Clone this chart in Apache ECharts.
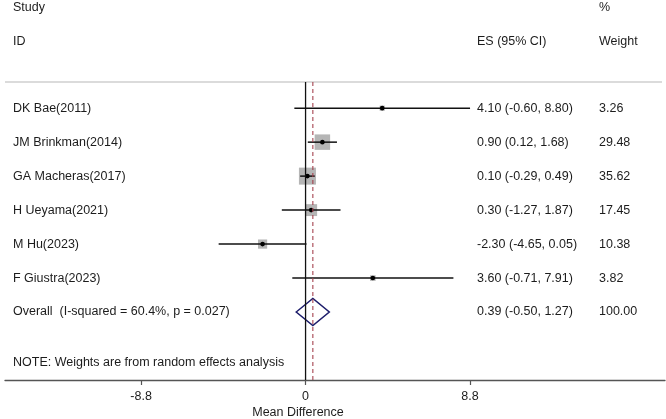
<!DOCTYPE html>
<html>
<head>
<meta charset="utf-8">
<script src="https://cdn.jsdelivr.net/npm/echarts@6/dist/echarts.min.js"></script>
<style>
  html, body { margin: 0; background: #fff; }
  #chart { width: 666px; height: 419px; }
</style>
</head>
<body>
<div id="chart"></div>
<script>
// study rows
const studies = ['DK Bae(2011)', 'JM Brinkman(2014)', 'GA Macheras(2017)', 'H Ueyama(2021)', 'M Hu(2023)', 'F Giustra(2023)']
const es = [4.10, 0.90, 0.10, 0.30, -2.30, 3.60]
const ciLow = [-0.60, 0.12, -0.29, -1.27, -4.65, -0.71]
const ciHigh = [8.80, 1.68, 0.49, 1.87, 0.05, 7.91]
const weights = [3.26, 29.48, 35.62, 17.45, 10.38, 3.82]

// pooled estimate: es, low, high, weight
const overallLabel = 'Overall  (I-squared = 60.4%, p = 0.027)'
const overallVals = [0.39, -0.50, 1.27, 100.00]

const xTicks = [-8.8, 0, 8.8]

const FONT = '12.5px "Liberation Sans", Arial, sans-serif'
const TXT = '#1c1c1c'
const ES_X = 477
const W_X = 599
const Y_TOP = -0.77
const Y_BOT = 8.0

const fmtCI = (e, l, h) => `${e.toFixed(2)} (${l.toFixed(2)}, ${h.toFixed(2)})`

function txt(text, x, y) {
  return { type: 'text', x, y, style: { text, font: FONT, fill: TXT, align: 'left', verticalAlign: 'middle' } }
}

// 每一行：方框 + 置信区间 + 点 + 文本
function renderStudy(params, api) {
  const row = api.value(1)
  const e = api.value(0), lo = api.value(2), hi = api.value(3), w = api.value(4)
  const y = api.coord([0, row])[1]
  const xe = api.coord([e, row])[0]
  const xl = api.coord([lo, row])[0]
  const xh = api.coord([hi, row])[0]
  const side = 2.85 * Math.sqrt(w)
  return {
    type: 'group',
    children: [
      { type: 'rect', shape: { x: xe - side / 2, y: y - side / 2, width: side, height: side }, style: { fill: '#b5b5b5' } },
      { type: 'line', shape: { x1: xl, y1: y, x2: xh, y2: y }, style: { stroke: '#111', lineWidth: 1.5 } },
      { type: 'circle', shape: { cx: xe, cy: y, r: 2.3 }, style: { fill: '#000' } },
      txt(studies[params.dataIndex], 13, y),
      txt(fmtCI(e, lo, hi), ES_X, y),
      txt(w.toFixed(2), W_X, y)
    ]
  }
}

function renderOverall(params, api) {
  const row = api.value(1)
  const e = api.value(0), lo = api.value(2), hi = api.value(3), w = api.value(4)
  const y = api.coord([0, row])[1]
  const xe = api.coord([e, row])[0]
  const xl = api.coord([lo, row])[0]
  const xh = api.coord([hi, row])[0]
  const h = 13.5
  return {
    type: 'group',
    children: [
      { type: 'polygon', shape: { points: [[xl, y], [xe, y - h], [xh, y], [xe, y + h]] },
        style: { fill: 'none', stroke: '#1d1d6b', lineWidth: 1.5 } },
      txt(overallLabel, 13, y),
      txt(fmtCI(e, lo, hi), ES_X, y),
      txt(w.toFixed(2), W_X, y)
    ]
  }
}

const chart = echarts.init(document.getElementById('chart'))
chart.setOption({
  animation: false,
  grid: { left: 5, right: 1, top: 82, bottom: 39 },
  xAxis: {
    type: 'value',
    min: -16.08,
    max: 19.23,
    axisLine: { onZero: false, lineStyle: { color: '#555', width: 1.3 } },
    axisTick: { customValues: xTicks, length: 5, lineStyle: { color: '#555', width: 1.2 } },
    axisLabel: {
      customValues: xTicks,
      margin: 10,
      color: TXT,
      fontSize: 12.5,
      fontFamily: '"Liberation Sans", Arial, sans-serif',
      formatter: v => (v === 0 ? '0' : v.toFixed(1))
    },
    splitLine: { show: false }
  },
  yAxis: { type: 'value', inverse: true, min: Y_TOP, max: Y_BOT, show: false },
  graphic: [
    { type: 'line', shape: { x1: 5, y1: 82, x2: 662, y2: 82 }, style: { stroke: '#cfcfcf', lineWidth: 1.5 } },
    txt('Study', 13, 8),
    txt('ID', 13, 42),
    txt('ES (95% CI)', ES_X, 42),
    txt('%', W_X, 8),
    txt('Weight', W_X, 42),
    txt('NOTE: Weights are from random effects analysis', 13, 363),
    { type: 'text', x: 298, y: 413, style: { text: 'Mean Difference', font: FONT, fill: TXT, align: 'center', verticalAlign: 'middle' } }
  ],
  series: [
    {
      type: 'line', symbol: 'none', silent: true,
      lineStyle: { color: '#111', width: 1.3 },
      data: [[0, Y_TOP], [0, Y_BOT]]
    },
    {
      type: 'line', symbol: 'none', silent: true,
      lineStyle: { color: '#a5424f', width: 1.1, type: [4, 3] },
      data: [[overallVals[0], Y_TOP], [overallVals[0], Y_BOT]]
    },
    {
      type: 'custom',
      renderItem: renderStudy,
      data: es.map((v, i) => [v, i, ciLow[i], ciHigh[i], weights[i]])
    },
    {
      type: 'custom',
      renderItem: renderOverall,
      data: [[overallVals[0], studies.length, overallVals[1], overallVals[2], overallVals[3]]]
    }
  ]
})
</script>
</body>
</html>
